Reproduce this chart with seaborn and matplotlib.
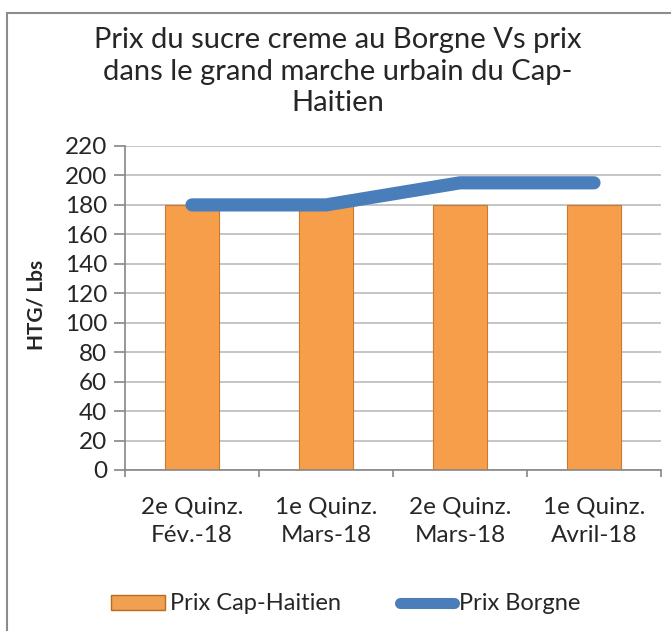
import numpy as np
import matplotlib
matplotlib.use("Agg")
import matplotlib.pyplot as plt
import matplotlib.patches as mpatches
from matplotlib.lines import Line2D
import seaborn as sns
import pandas as pd

categories = ["2e Quinz.\nFév.-18", "1e Quinz.\nMars-18", "2e Quinz.\nMars-18", "1e Quinz.\nAvril-18"]
prix_cap = [180, 180, 180, 180]
prix_borgne = [180, 180, 195, 195]

TITLE = "Prix du sucre creme au Borgne Vs prix\ndans le grand marche urbain du Cap-\nHaitien"

BAR_COLOR = '#f79e4a'
LINE_COLOR = '#4a7ebb'

sns.set_style("white")
plt.rcParams['font.family'] = ['Lato', 'DejaVu Sans']

df = pd.DataFrame({'cat': categories, 'cap': prix_cap, 'borgne': prix_borgne})

fig = plt.figure(figsize=(6.71, 6.31), dpi=100)
ax = fig.add_axes([125 / 671, 1 - 470 / 631, 536 / 671, 324 / 631])

ax.set_axisbelow(True)
ax.yaxis.grid(True, color='#c0c0c0', linewidth=1.3)
sns.barplot(data=df, x='cat', y='cap', color=BAR_COLOR, width=0.40,
            edgecolor='#c97a30', linewidth=0.8, saturation=1, ax=ax)
ax.plot(np.arange(len(categories)), df['borgne'], color=LINE_COLOR,
        linewidth=9.5, solid_capstyle='round', zorder=5)

ax.set_ylim(0, 220)
ax.set_yticks(range(0, 221, 20))
ax.set_xlim(-0.5, len(categories) - 0.5)
ax.set_xticks(np.arange(-0.5, len(categories)), minor=True)
ax.tick_params(axis='x', which='major', labelsize=17.5, length=0, pad=19)
ax.tick_params(axis='x', which='minor', length=5, width=1.2, color='#868686',
               direction='out', bottom=True)
ax.tick_params(axis='y', labelsize=17.5, length=8, width=1.2, color='#868686',
               direction='out', left=True, pad=5)
for lbl in ax.get_xticklabels():
    lbl.set_linespacing(1.45)
ax.set_xlabel("")
ax.set_ylabel("HTG/ Lbs", fontsize=15, fontweight='bold')
ax.yaxis.set_label_coords(-0.147, 0.51)
for s in ['top', 'right']:
    ax.spines[s].set_visible(False)
for s in ['left', 'bottom']:
    ax.spines[s].set_color('#868686')
    ax.spines[s].set_linewidth(1.2)

fig.text(0.504, 1 - 27 / 631, TITLE, ha='center', va='top', fontsize=21,
         linespacing=1.27)

handles = [mpatches.Patch(facecolor='#f0a050', edgecolor='#b86a20'),
           Line2D([0], [0], color=LINE_COLOR, linewidth=8, solid_capstyle='round')]
fig.legend(handles, ['Prix Cap-Haitien', 'Prix Borgne'], loc='center',
           bbox_to_anchor=(0.515, 1 - 604 / 631), ncol=2, frameon=False,
           fontsize=17, handlelength=2.3, handleheight=0.6, handletextpad=0.2,
           columnspacing=2.5)

# chart border
fig.patches.append(mpatches.Rectangle((7 / 671, -0.1), 1.0, 1.1 - 13 / 631,
                                      transform=fig.transFigure, fill=False,
                                      edgecolor='#8c8c8c', linewidth=1.5))

fig.savefig("out.png", dpi=100)
